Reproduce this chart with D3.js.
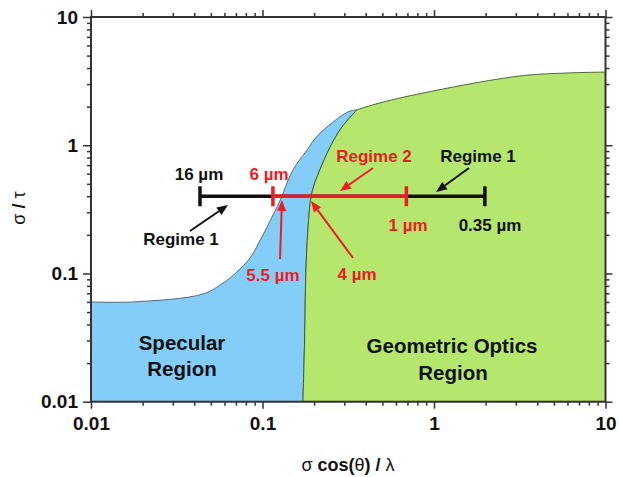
<!DOCTYPE html>
<html><head><meta charset="utf-8">
<script src="https://cdn.jsdelivr.net/npm/d3@7"></script>
<style>body{margin:0;background:#fff} svg{display:block}</style>
</head><body><svg id="c" width="619" height="477"></svg>
<script>
// ---- data ----
const xDomain = [0.01, 10];
const yDomain = [0.01, 10];
const majorTicks = [0.01, 0.1, 1, 10];
const tickLabels = ["0.01", "0.1", "1", "10"];
// upper/left edge of the specular (blue) region
const specularEdge = [[0.01,0.06],[0.0176,0.06],[0.045,0.0692],[0.0589,0.0843],[0.071,0.1028],[0.0845,0.132],[0.0993,0.193],[0.1136,0.276],[0.1248,0.355],[0.1506,0.642],[0.182,0.92],[0.211,1.20],[0.315,1.82],[0.356,1.89]];
// upper edge of the geometric optics (green) region
const geometricTop = [[0.356,1.89],[0.484,2.14],[0.986,2.65],[3.17,3.47],[5.97,3.66],[10,3.72]];
// boundary between specular and geometric optics regions (top to bottom)
const interfaceEdge = [[0.356,1.89],[0.291,1.39],[0.248,0.97],[0.216,0.642],[0.194,0.425],[0.184,0.218],[0.179,0.1],[0.176,0.0303],[0.172,0.01]];
const barLevel = 0.4;
const regime1Bar = [0.0432, 1.98];   // 16 um .. 0.35 um
const regime2Bar = [0.115, 0.69];    // 6 um .. 1 um

// ---- setup ----
const W = 619, H = 477;
const L = 91, R = 605.5, T = 17, B = 401.7;
const FONT = "'Liberation Sans', Arial, sans-serif";
const RED = "#ec1c24", BLK = "#111", BLUE = "#85cdf9", GREEN = "#b5e76e", AX = "#333";
const svg = d3.select("#c");
svg.append("rect").attr("width", W).attr("height", H).attr("fill", "#fff");

const x = d3.scaleLog().domain(xDomain).range([L, R]);
const y = d3.scaleLog().domain(yDomain).range([B, T]);
const curve = d3.line().x(d => x(d[0])).y(d => y(d[1])).curve(d3.curveCatmullRom.alpha(0.5));
const seg = pts => curve(pts).replace(/^M/, "L");
const pt = p => "L" + x(p[0]) + "," + y(p[1]);

// regions
const blueD = curve(specularEdge) + seg(interfaceEdge) + pt([xDomain[0], yDomain[0]]) + "Z";
const greenD = curve(geometricTop) + pt([xDomain[1], yDomain[0]]) + seg(interfaceEdge.slice().reverse()) + "Z";
svg.append("path").attr("d", blueD).attr("fill", BLUE).attr("stroke", "#3a4a50").attr("stroke-width", 0.8);
svg.append("path").attr("d", greenD).attr("fill", GREEN).attr("stroke", "#2f4020").attr("stroke-width", 0.8);

// minor ticks
const minors = [];
[0.01, 0.1, 1].forEach(d => { for (let k = 2; k <= 9; k++) minors.push(d * k); });

function styleAxis(g) {
  g.select(".domain").remove();
  g.selectAll(".tick line").attr("stroke", AX).attr("stroke-width", 1.5);
  g.selectAll("text").attr("font-family", FONT).attr("font-weight", "bold").attr("font-size", 19).attr("fill", "#111");
}
// bottom
svg.append("g").attr("transform", `translate(0,${B})`)
  .call(d3.axisBottom(x).tickValues(majorTicks).tickSize(7).tickPadding(8).tickFormat((d, i) => tickLabels[i])).call(styleAxis);
svg.append("g").attr("transform", `translate(0,${B})`)
  .call(d3.axisBottom(x).tickValues(minors).tickSize(4).tickFormat("")).call(styleAxis);
// top
svg.append("g").attr("transform", `translate(0,${T})`)
  .call(d3.axisTop(x).tickValues(majorTicks).tickSize(7).tickFormat("")).call(styleAxis);
svg.append("g").attr("transform", `translate(0,${T})`)
  .call(d3.axisTop(x).tickValues(minors).tickSize(4).tickFormat("")).call(styleAxis);
// left
svg.append("g").attr("transform", `translate(${L},0)`)
  .call(d3.axisLeft(y).tickValues(majorTicks).tickSize(8).tickPadding(5).tickFormat((d, i) => tickLabels[i])).call(styleAxis);
svg.append("g").attr("transform", `translate(${L},0)`)
  .call(d3.axisLeft(y).tickValues(minors).tickSize(4).tickFormat("")).call(styleAxis);
// right
svg.append("g").attr("transform", `translate(${R},0)`)
  .call(d3.axisRight(y).tickValues(majorTicks).tickSize(7).tickFormat("")).call(styleAxis);
svg.append("g").attr("transform", `translate(${R},0)`)
  .call(d3.axisRight(y).tickValues(minors).tickSize(4).tickFormat("")).call(styleAxis);

// frame
svg.append("rect").attr("x", L).attr("y", T).attr("width", R - L).attr("height", B - T)
  .attr("fill", "none").attr("stroke", AX).attr("stroke-width", 2);

// axis titles
const xt = svg.append("text").attr("x", 348).attr("y", 471).attr("text-anchor", "middle")
  .attr("font-family", FONT).attr("font-size", 18).attr("font-weight", "bold").attr("fill", "#111");
xt.append("tspan").attr("font-weight", "normal").text("σ");
xt.append("tspan").text(" cos(");
xt.append("tspan").attr("font-weight", "normal").text("θ");
xt.append("tspan").text(") / ");
xt.append("tspan").attr("font-weight", "normal").text("λ");
const yt = svg.append("text").attr("transform", "translate(25,208) rotate(-90)").attr("text-anchor", "middle")
  .attr("font-family", FONT).attr("font-size", 18).attr("font-weight", "bold").attr("fill", "#111");
yt.append("tspan").attr("font-weight", "normal").text("σ");
yt.append("tspan").text(" / ");
yt.append("tspan").attr("font-weight", "normal").text("τ");

// bars
const by = y(barLevel);
function bar(span, color, w) {
  svg.append("line").attr("x1", x(span[0])).attr("x2", x(span[1])).attr("y1", by).attr("y2", by)
    .attr("stroke", color).attr("stroke-width", w);
  span.forEach(v => svg.append("line").attr("x1", x(v)).attr("x2", x(v)).attr("y1", by - 10).attr("y2", by + 10)
    .attr("stroke", color).attr("stroke-width", 3.5));
}
bar(regime1Bar, BLK, 3.5);
bar(regime2Bar, RED, 3.5);

// arrows
function arrow(x1, y1, x2, y2, color) {
  const a = Math.atan2(y2 - y1, x2 - x1), hl = 11, hw = 4.5;
  const bx = x2 - hl * Math.cos(a), byy = y2 - hl * Math.sin(a);
  svg.append("line").attr("x1", x1).attr("y1", y1).attr("x2", bx).attr("y2", byy)
    .attr("stroke", color).attr("stroke-width", 2);
  const p = [[x2, y2], [bx + hw * Math.sin(a), byy - hw * Math.cos(a)], [bx - hw * Math.sin(a), byy + hw * Math.cos(a)]];
  svg.append("path").attr("d", "M" + p.map(q => q.join(",")).join("L") + "Z").attr("fill", color);
}
arrow(190, 231, 228, 205, BLK);
arrow(280, 259, 282, 200, RED);
arrow(353, 258, 311, 201, RED);
arrow(373, 168, 340, 191, RED);
arrow(469, 168, 436, 192, BLK);

// annotation texts
const notes = [
  ["16 µm", 199, 180, BLK, 17],
  ["6 µm", 269, 180, RED, 17],
  ["Regime 1", 181, 245, BLK, 17],
  ["5.5 µm", 273, 281, RED, 17],
  ["4 µm", 357, 280, RED, 17],
  ["Regime 2", 374, 162, RED, 17],
  ["Regime 1", 478, 162, BLK, 17],
  ["1 µm", 408, 231, RED, 17],
  ["0.35 µm", 490, 231, BLK, 17],
  ["Specular", 182, 350, BLK, 20.5],
  ["Region", 182, 376, BLK, 20.5],
  ["Geometric Optics", 452, 353, BLK, 20.5],
  ["Region", 453, 380, BLK, 20.5]
];
notes.forEach(n => svg.append("text").attr("x", n[1]).attr("y", n[2]).attr("text-anchor", "middle")
  .attr("font-family", FONT).attr("font-weight", "bold").attr("font-size", n[4]).attr("fill", n[3]).text(n[0]));
</script>
</body></html>
